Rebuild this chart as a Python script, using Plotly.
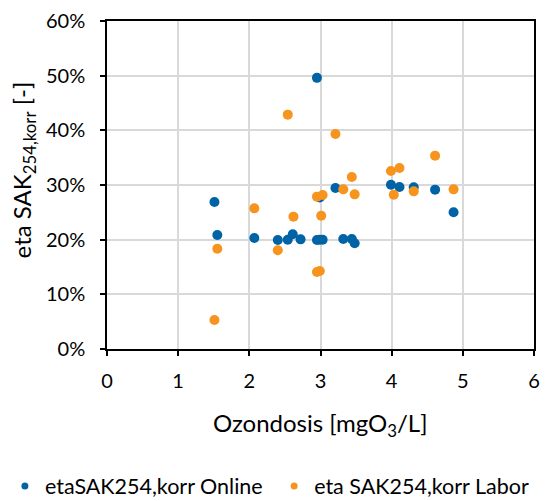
import plotly.graph_objects as go

# Ozone dose [mgO3/L] vs. SAK254 reduction, online probe
dose_online = [2.95, 1.51, 1.55, 2.07, 2.40, 2.54, 2.61, 2.72, 2.95, 2.99, 3.03,
               2.99, 3.21, 3.32, 3.44, 3.48, 3.99, 4.11, 4.31, 4.61, 4.87]
eta_online = [0.496, 0.269, 0.2085, 0.203, 0.1994, 0.200, 0.2098, 0.2006, 0.1994, 0.200, 0.200,
              0.277, 0.2945, 0.2012, 0.2012, 0.1933, 0.3006, 0.2963, 0.2957, 0.2915, 0.250]

# Ozone dose [mgO3/L] vs. SAK254 reduction, laboratory measurement
dose_labor = [1.51, 1.55, 2.07, 2.40, 2.54, 2.62, 2.95, 3.03, 3.01, 2.95, 2.99,
              3.21, 3.32, 3.44, 3.48, 3.99, 4.11, 4.03, 4.31, 4.61, 4.87]
eta_labor = [0.053, 0.1835, 0.2573, 0.1805, 0.4287, 0.2421, 0.2787, 0.2817, 0.2439, 0.1409, 0.1427,
             0.3933, 0.292, 0.3146, 0.2829, 0.3256, 0.3311, 0.2823, 0.2884, 0.3537, 0.292]

name_online = "etaSAK254,korr Online"
name_labor = "eta SAK254,korr Labor"
c_online = "#0063A6"
c_labor = "#F7941D"

x_ticks = [0, 1, 2, 3, 4, 5, 6]
y_ticks = [0, 0.1, 0.2, 0.3, 0.4, 0.5, 0.6]

FONT = "Lato, 'Open Sans', sans-serif"

fig = go.Figure()
fig.add_trace(go.Scatter(x=dose_online, y=eta_online, mode="markers", showlegend=False,
                         marker=dict(color=c_online, size=10)))
fig.add_trace(go.Scatter(x=dose_labor, y=eta_labor, mode="markers", showlegend=False,
                         marker=dict(color=c_labor, size=10)))
# legend entries with small symbols, one legend box per series
fig.add_trace(go.Scatter(x=[None], y=[None], mode="markers", name=name_online,
                         marker=dict(color=c_online, size=7), legend="legend"))
fig.add_trace(go.Scatter(x=[None], y=[None], mode="markers", name=name_labor,
                         marker=dict(color=c_labor, size=7), legend="legend2"))

axis_common = dict(
    showline=True, linecolor="black", linewidth=1.5, mirror=True,
    ticks="outside", ticklen=5, tickwidth=1.5, tickcolor="black",
    showgrid=True, gridcolor="#D9D9D9", gridwidth=1.5, zeroline=False,
    tickfont=dict(family=FONT, size=20, color="black"),
)

fig.update_xaxes(range=[0, 6], tickvals=x_ticks, ticklabelstandoff=8, **axis_common)
fig.update_yaxes(range=[0, 0.6], tickvals=y_ticks, tickformat=".0%",
                 ticklabelstandoff=11, **axis_common)

title_font = dict(family=FONT, size=24, color="black")
fig.add_annotation(text="Ozondosis [mgO<sub>3</sub>/L]", xref="paper", yref="paper",
                   x=0.5, y=-0.2296, xanchor="center", yanchor="middle",
                   showarrow=False, font=title_font)
fig.add_annotation(text="eta SAK<sub>254,korr</sub> [-]", xref="paper", yref="paper",
                   x=-0.1963, y=0.545, xanchor="center", yanchor="middle", textangle=-90,
                   showarrow=False, font=title_font)

legend_common = dict(orientation="h", xref="container", yref="container",
                     xanchor="left", y=0.03, yanchor="middle",
                     font=dict(family=FONT, size=21.5, color="black"),
                     bgcolor="rgba(0,0,0,0)")

fig.update_layout(
    width=545, height=501,
    margin=dict(l=107, r=5, t=21, b=152),
    paper_bgcolor="white", plot_bgcolor="white",
    font=dict(family=FONT, color="black"),
    legend=dict(x=0.009, **legend_common),
    legend2=dict(x=0.503, **legend_common),
)

fig.write_html("out.html")
